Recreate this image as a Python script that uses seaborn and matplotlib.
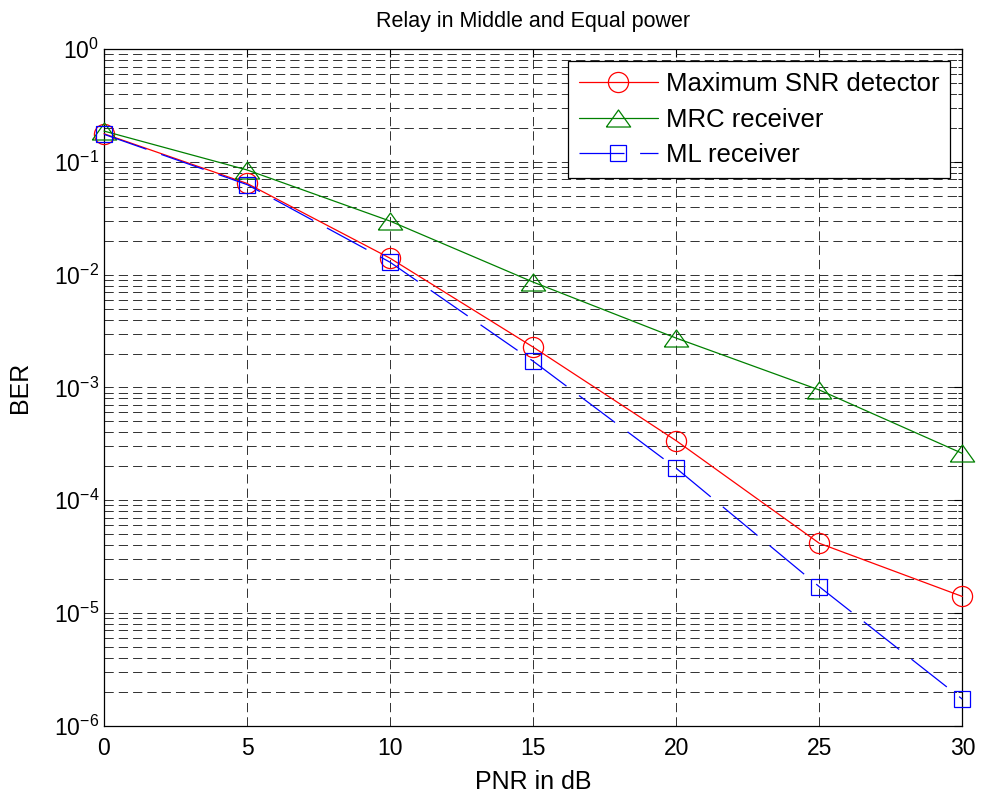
import numpy as np
import pandas as pd
import matplotlib
matplotlib.use("Agg")
import matplotlib.pyplot as plt
import seaborn as sns
from matplotlib.ticker import LogLocator, NullFormatter

# ── Data ──────────────────────────────────────────────────────────────────────
PNR_DB = [0, 5, 10, 15, 20, 25, 30]
BER_MAX_SNR = [0.178, 0.0645, 0.0140, 0.00228, 3.37e-4, 4.15e-5, 1.40e-5]
BER_MRC     = [0.188, 0.085, 0.0299, 0.0086, 0.00274, 9.5e-4, 2.6e-4]
BER_ML      = [0.176, 0.063, 0.0129, 0.00171, 1.92e-4, 1.71e-5, 1.72e-6]

LABELS = ["Maximum SNR detector", "MRC receiver", "ML receiver"]
BER_TICKS = [1e-6, 1e-5, 1e-4, 1e-3, 1e-2, 1e-1, 1e0]

sns.set_style("white")
plt.rcParams["font.family"] = ["Liberation Sans", "DejaVu Sans"]
plt.rcParams.update({
    "text.color": "black",
    "axes.labelcolor": "black",
    "xtick.color": "black",
    "ytick.color": "black",
})

fig = plt.figure(figsize=(9.81, 7.94), dpi=100)
ax = fig.add_axes([0.106, 0.086, 0.875, 0.852])

# MATLAB-style triangle: wider than tall
TRI = [(-1, -0.7), (1, -0.7), (0, 0.7), (-1, -0.7)]

series = [
    (BER_MAX_SNR, LABELS[0], "#ff0000", "o", "-", 14.5),
    (BER_MRC,     LABELS[1], "#008000", TRI, "-", 17.5),
    (BER_ML,      LABELS[2], "#0000ff", "s", (0, (36, 12.5)), 11.5),
]
for vals, lab, col, mk, ls, ms in series:
    df = pd.DataFrame({"pnr": PNR_DB, "ber": vals})
    sns.lineplot(data=df, x="pnr", y="ber", ax=ax, color=col, marker=mk,
                 linestyle=ls, lw=0.9, ms=ms, mfc="none", mec=col, mew=0.9,
                 label=lab, clip_on=False, zorder=3)

ax.set_yscale("log")
ax.set_xlim(0, 30)
ax.set_ylim(1e-6, 1)
ax.set_xticks(PNR_DB)
ax.set_yticks(BER_TICKS)
ax.yaxis.set_minor_locator(LogLocator(base=10, subs=np.arange(2, 10), numticks=100))
ax.yaxis.set_minor_formatter(NullFormatter())

grid_kw = dict(ls=(0, (9.5, 5.2)), color="#303030", lw=0.7)
ax.grid(True, which="major", axis="x", **grid_kw)
ax.grid(True, which="both", axis="y", **grid_kw)

ax.tick_params(which="both", direction="in", top=True, right=True, labelsize=16.5)
ax.tick_params(axis="x", which="major", pad=8)
ax.tick_params(which="major", length=6)
ax.tick_params(which="minor", length=3)
for s in ax.spines.values():
    s.set_color("black")
    s.set_linewidth(0.9)

ax.set_title("Relay in Middle and Equal power", fontsize=15.5, pad=16)
ax.set_xlabel("PNR in dB", fontsize=18)
ax.set_ylabel("BER", fontsize=18)
ax.xaxis.set_label_coords(0.5, -0.065)
ax.yaxis.set_label_coords(-0.084, 0.5)

leg = ax.legend(loc="upper right", fontsize=18.5, frameon=True, fancybox=False,
                handlelength=3.1, handletextpad=0.3, borderaxespad=0.47,
                borderpad=0.42, labelspacing=0.45)
leg.get_frame().set_edgecolor("black")
leg.get_frame().set_linewidth(0.9)
leg.get_frame().set_alpha(1)

fig.savefig("out.png", dpi=100)
